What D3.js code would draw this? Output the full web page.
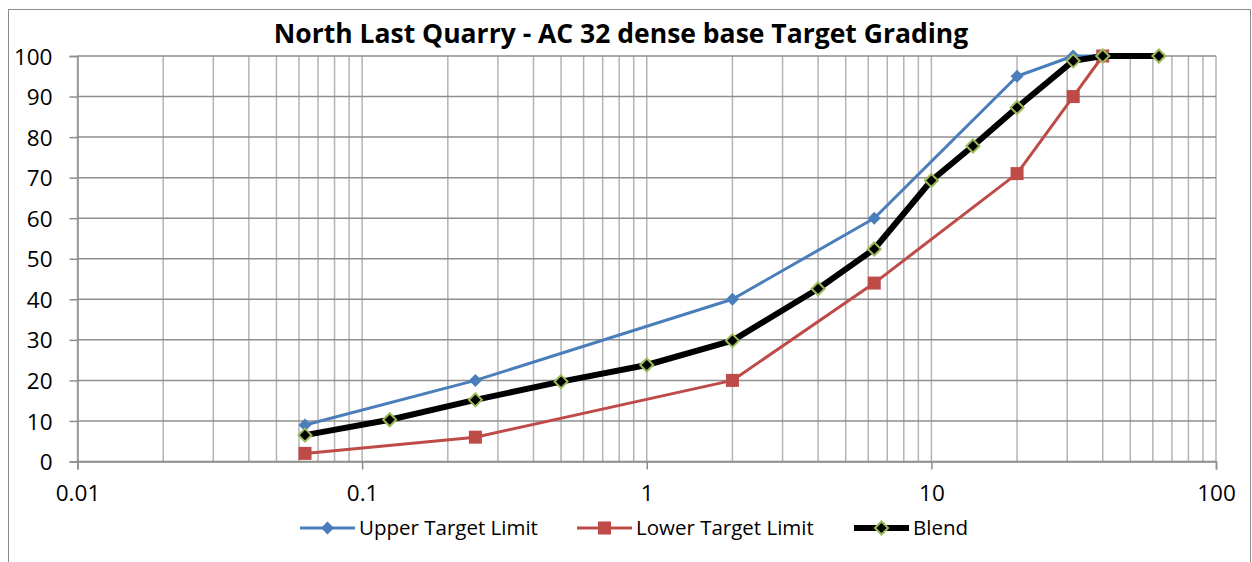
<!DOCTYPE html>
<html>
<head>
<meta charset="utf-8">
<script src="https://cdn.jsdelivr.net/npm/d3@7"></script>
<style>
  body { margin: 0; background: #fff; }
  svg { display: block; font-family: "Open Sans", sans-serif; }
</style>
</head>
<body>
<div id="graphSpace"></div>
<script>
// sieve sizes (mm) and % passing
var upperSizes = [0.063, 0.25, 2, 6.3, 20, 31.5, 40];
var upperVals  = [9, 20, 40, 60, 95, 100, 100];
var lowerSizes = [0.063, 0.25, 2, 6.3, 20, 31.5, 40];
var lowerVals  = [2, 6, 20, 44, 71, 90, 100];
var blendSizes = [0.063, 0.125, 0.25, 0.5, 1, 2, 4, 6.3, 10, 14, 20, 31.5, 40, 63];
var blendVals  = [6.5, 10.3, 15.2, 19.7, 23.8, 29.8, 42.6, 52.4, 69.3, 77.8, 87.3, 98.8, 100, 100];
var xTicks = [0.01, 0.1, 1, 10, 100];
var yTicks = [0, 10, 20, 30, 40, 50, 60, 70, 80, 90, 100];
var chartTitle = "North Last Quarry - AC 32 dense base Target Grading";
var seriesNames = ["Upper Target Limit", "Lower Target Limit", "Blend"];

var W = 1252, H = 562;
var plot = {left: 77.5, right: 1216, top: 56, bottom: 461.5};

var svg = d3.select("#graphSpace").append("svg")
    .attr("width", W)
    .attr("height", H);

// chart frame
svg.append("rect")
    .attr("x", 8.5).attr("y", 9.5)
    .attr("width", 1242).attr("height", 620)
    .attr("fill", "none")
    .attr("stroke", "#8c8c8c")
    .attr("stroke-width", 1);

var x = d3.scaleLog().domain([0.01, 100]).range([plot.left, plot.right]);
var y = d3.scaleLinear().domain([0, 100]).range([plot.bottom, plot.top]);

// vertical grid (minor log lines)
svg.append("g")
    .selectAll("line")
    .data(x.ticks())
    .enter().append("line")
    .attr("x1", function (d) { return x(d); })
    .attr("x2", function (d) { return x(d); })
    .attr("y1", plot.top)
    .attr("y2", plot.bottom)
    .attr("stroke", "#b4b4b4")
    .attr("stroke-width", 1.5);

// horizontal grid
svg.append("g")
    .selectAll("line")
    .data(yTicks)
    .enter().append("line")
    .attr("x1", plot.left)
    .attr("x2", plot.right)
    .attr("y1", function (d) { return y(d); })
    .attr("y2", function (d) { return y(d); })
    .attr("stroke", "#8e8e8e")
    .attr("stroke-width", 1.5);

// axes
var xAxis = svg.append("g")
    .attr("transform", "translate(0," + plot.bottom + ")")
    .call(d3.axisBottom(x).tickValues(xTicks).tickFormat(function (d) { return String(d); })
        .tickSize(8).tickPadding(16));
var yAxis = svg.append("g")
    .attr("transform", "translate(" + plot.left + ",0)")
    .call(d3.axisLeft(y).tickValues(yTicks).tickSize(8).tickPadding(17));

[xAxis, yAxis].forEach(function (a) {
    a.select(".domain").attr("stroke", "#8e8e8e").attr("stroke-width", 1.5);
    a.selectAll(".tick line").attr("stroke", "#8e8e8e").attr("stroke-width", 1.5);
    a.selectAll(".tick text")
        .attr("fill", "#000")
        .style("font-family", "'Open Sans', sans-serif")
        .style("font-size", "22.5px");
});
xAxis.selectAll(".tick text").attr("dy", "0.71em");
yAxis.selectAll(".tick text").attr("dy", "0.36em");

// title
svg.append("text")
    .attr("x", 621)
    .attr("y", 43)
    .attr("text-anchor", "middle")
    .style("font-weight", "bold")
    .style("font-size", "26.5px")
    .attr("fill", "#000")
    .text(chartTitle);

var line = d3.line()
    .x(function (d) { return x(d[0]); })
    .y(function (d) { return y(d[1]); });

function zip(a, b) {
    return a.map(function (v, i) { return [v, b[i]]; });
}

var diamond = function (r) {
    return "M0," + (-r) + "L" + r + ",0L0," + r + "L" + (-r) + ",0Z";
};

var upper = zip(upperSizes, upperVals),
    lower = zip(lowerSizes, lowerVals),
    blend = zip(blendSizes, blendVals);

// Upper
svg.append("path").datum(upper)
    .attr("d", line).attr("fill", "none")
    .attr("stroke", "#4a7ebb").attr("stroke-width", 3).attr("stroke-linejoin", "round");
svg.append("g").selectAll("path").data(upper).enter().append("path")
    .attr("transform", function (d) { return "translate(" + x(d[0]) + "," + y(d[1]) + ")"; })
    .attr("d", diamond(6.5))
    .attr("fill", "#4a7ebb");

// Lower
svg.append("path").datum(lower)
    .attr("d", line).attr("fill", "none")
    .attr("stroke", "#be4b48").attr("stroke-width", 3).attr("stroke-linejoin", "round");
svg.append("g").selectAll("rect").data(lower).enter().append("rect")
    .attr("x", function (d) { return x(d[0]) - 6.5; })
    .attr("y", function (d) { return y(d[1]) - 6.5; })
    .attr("width", 13).attr("height", 13)
    .attr("fill", "#be4b48");

// Blend
svg.append("path").datum(blend)
    .attr("d", line).attr("fill", "none")
    .attr("stroke", "#000").attr("stroke-width", 6).attr("stroke-linejoin", "round");
svg.append("g").selectAll("path").data(blend).enter().append("path")
    .attr("transform", function (d) { return "translate(" + x(d[0]) + "," + y(d[1]) + ")"; })
    .attr("d", diamond(6.5))
    .attr("fill", "#000")
    .attr("stroke", "#9bbb59").attr("stroke-width", 2);

// legend
var legendItems = [
    {name: seriesNames[0], x0: 300, color: "#4a7ebb", w: 3, marker: "diamond"},
    {name: seriesNames[1], x0: 577, color: "#be4b48", w: 3, marker: "square"},
    {name: seriesNames[2], x0: 854, color: "#000", w: 6, marker: "blend"}
];
var ly = 528;
var lg = svg.append("g").selectAll("g").data(legendItems).enter().append("g");
lg.append("line")
    .attr("x1", function (d) { return d.x0; })
    .attr("x2", function (d) { return d.x0 + 55; })
    .attr("y1", ly).attr("y2", ly)
    .attr("stroke", function (d) { return d.color; })
    .attr("stroke-width", function (d) { return d.w; });
lg.each(function (d) {
    var g = d3.select(this), cx = d.x0 + 27.5;
    if (d.marker == "square") {
        g.append("rect").attr("x", cx - 6.5).attr("y", ly - 6.5)
            .attr("width", 13).attr("height", 13).attr("fill", d.color);
    } else if (d.marker == "diamond") {
        g.append("path").attr("transform", "translate(" + cx + "," + ly + ")")
            .attr("d", diamond(6.5)).attr("fill", d.color);
    } else {
        g.append("path").attr("transform", "translate(" + cx + "," + ly + ")")
            .attr("d", diamond(6.5)).attr("fill", "#000")
            .attr("stroke", "#9bbb59").attr("stroke-width", 2);
    }
});
lg.append("text")
    .attr("x", function (d) { return d.x0 + 59; })
    .attr("y", ly)
    .attr("dy", "0.36em")
    .style("font-size", "20.5px")
    .attr("fill", "#000")
    .text(function (d) { return d.name; });
</script>
</body>
</html>
